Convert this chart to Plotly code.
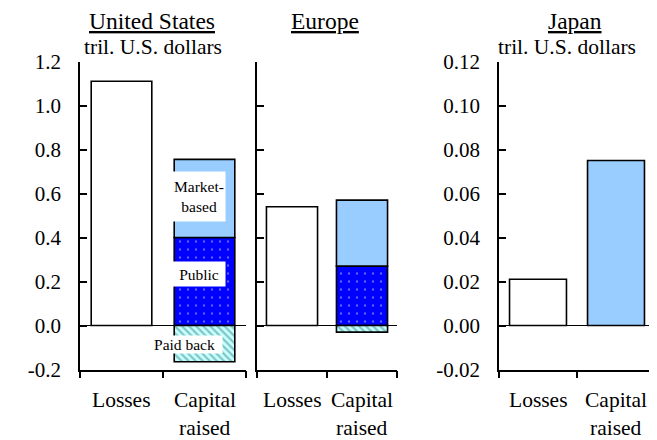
import plotly.graph_objects as go

# ---------------- data ----------------
categories = ["Losses", "Capital raised"]
cat_label_lines = [["Losses"], ["Capital", "raised"]]

us_losses = [1.11]
us_public = [0.40]
us_market = [0.355]
us_paid_back = [-0.165]

eu_losses = [0.54]
eu_public = [0.27]
eu_market = [0.30]
eu_paid_back = [-0.03]

jp_losses = [0.021]
jp_capital = [0.075]

us_tickvals = [-0.2, 0.0, 0.2, 0.4, 0.6, 0.8, 1.0, 1.2]
us_ticktext = ["-0.2", "0.0", "0.2", "0.4", "0.6", "0.8", "1.0", "1.2"]
jp_tickvals = [-0.02, 0.0, 0.02, 0.04, 0.06, 0.08, 0.10, 0.12]
jp_ticktext = ["-0.02", "0.00", "0.02", "0.04", "0.06", "0.08", "0.10", "0.12"]

panel_titles = ["United States", "Europe", "Japan"]
unit_label = "tril. U.S. dollars"
segment_labels = ["Market-<br>based", "Public", "Paid back"]

# ---------------- style ----------------
FONT = "Liberation Serif, Times New Roman, serif"
OFF = 8                      # default page body margin
FW, FH = 657 - OFF, 440 - OFF
WHITE = "#FFFFFF"
LIGHTBLUE = "#99CCFF"
BLUE = "#0000FF"
CYAN = "#CCFFFF"
TEAL = "#2E8E8E"
OUTLINE = dict(color="black", width=1.6)

def px_x(p):
    return (p - OFF) / FW

def px_y(p):
    return 1 - (p - OFF) / FH

fig = go.Figure()

def losses_bar(vals, xa, ya):
    fig.add_trace(go.Bar(x=[categories[0]], y=vals, xaxis=xa, yaxis=ya,
                         marker=dict(color=WHITE, line=OUTLINE), showlegend=False))

def public_bar(vals, xa, ya):
    fig.add_trace(go.Bar(x=[categories[1]], y=vals, xaxis=xa, yaxis=ya,
                         marker=dict(color=BLUE, line=OUTLINE,
                                     pattern=dict(shape=".", fgcolor="white", bgcolor=BLUE,
                                                  size=8, solidity=0.06)),
                         showlegend=False))

def market_bar(vals, xa, ya):
    fig.add_trace(go.Bar(x=[categories[1]], y=vals, xaxis=xa, yaxis=ya,
                         marker=dict(color=LIGHTBLUE, line=OUTLINE), showlegend=False))

def paid_bar(vals, xa, ya):
    fig.add_trace(go.Bar(x=[categories[1]], y=vals, xaxis=xa, yaxis=ya,
                         marker=dict(color=CYAN, line=OUTLINE,
                                     pattern=dict(shape="\\", fgcolor=TEAL, bgcolor=CYAN,
                                                  size=5, solidity=0.45)),
                         showlegend=False))

# United States
losses_bar(us_losses, "x", "y")
public_bar(us_public, "x", "y")
market_bar(us_market, "x", "y")
paid_bar(us_paid_back, "x", "y")
# Europe
losses_bar(eu_losses, "x2", "y2")
public_bar(eu_public, "x2", "y2")
market_bar(eu_market, "x2", "y2")
paid_bar(eu_paid_back, "x2", "y2")
# Japan
losses_bar(jp_losses, "x3", "y3")
market_bar(jp_capital, "x3", "y3")

ydom = [px_y(369.5), px_y(61.5)]
xdoms = [[px_x(80), px_x(246)], [px_x(257), px_x(397)], [px_x(499), px_x(655)]]

def xaxis_cfg(dom, anchor):
    return dict(domain=dom, anchor=anchor, type="category", categoryorder="array",
                categoryarray=categories, showline=True, linecolor="black", linewidth=1.5,
                ticks="outside", ticklen=7, tickwidth=1.5, tickcolor="black",
                tickson="boundaries", showticklabels=False, showgrid=False,
                zeroline=False, fixedrange=True, automargin=False)

def yaxis_cfg(anchor, rng, tv, tt, labels=True):
    return dict(domain=ydom, anchor=anchor, range=rng, tickmode="array",
                tickvals=tv, ticktext=tt, showticklabels=labels,
                showline=True, linecolor="black", linewidth=1.5,
                ticks="inside", ticklen=7, tickwidth=1.5, tickcolor="black",
                ticklabelstandoff=13,
                tickfont=dict(family=FONT, size=21, color="black"),
                showgrid=False, zeroline=True, zerolinecolor="black",
                zerolinewidth=1, fixedrange=True, automargin=False)

annotations = []
# panel titles and units
title_pos = [(151.5, 21), (324.5, 21), (575, 21)]
for (cx, cy), t in zip(title_pos, panel_titles):
    annotations.append(dict(text="<u>" + t + "</u>", x=px_x(cx), y=px_y(cy), xref="paper",
                            yref="paper", xanchor="center", yanchor="middle", showarrow=False,
                            font=dict(family=FONT, size=23.5, color="black")))
for cx in (153, 567):
    annotations.append(dict(text=unit_label, x=px_x(cx), y=px_y(47), xref="paper",
                            yref="paper", xanchor="center", yanchor="middle", showarrow=False,
                            font=dict(family=FONT, size=21.5, color="black")))

# category labels
for xr in ("x", "x2", "x3"):
    for cat, lines in zip(categories, cat_label_lines):
        for i, line in enumerate(lines):
            annotations.append(dict(text=line, x=cat, xref=xr, y=px_y(400 + 28 * i),
                                    yref="paper", xanchor="center", yanchor="middle",
                                    showarrow=False,
                                    font=dict(family=FONT, size=21.5, color="black")))

# segment labels inside US capital bar
seg_pos = [(0.585, -5.5, 52, 49), (0.232, -5.5, 52, 24), (-0.087, -20, 75, 17)]
for txt, (yy, xs, bw, bh) in zip(segment_labels, seg_pos):
    annotations.append(dict(text=txt, x=categories[1], xref="x", y=yy, yref="y",
                            xshift=xs, xanchor="center", yanchor="middle", showarrow=False,
                            width=bw, height=bh, bgcolor="white", borderpad=0,
                            font=dict(family=FONT, size=15.5, color="black")))

fig.update_layout(
    width=FW, height=FH,
    margin=dict(l=0, r=0, t=0, b=0, autoexpand=False),
    paper_bgcolor="white", plot_bgcolor="white",
    font=dict(family=FONT, color="black"),
    barmode="relative", bargap=0.27,
    showlegend=False,
    xaxis=xaxis_cfg(xdoms[0], "y"),
    xaxis2=xaxis_cfg(xdoms[1], "y2"),
    xaxis3=xaxis_cfg(xdoms[2], "y3"),
    yaxis=yaxis_cfg("x", [-0.2, 1.2], us_tickvals, us_ticktext),
    yaxis2=yaxis_cfg("x2", [-0.2, 1.2], us_tickvals, us_ticktext, labels=False),
    yaxis3=yaxis_cfg("x3", [-0.02, 0.12], jp_tickvals, jp_ticktext),
    annotations=annotations,
)

fig.write_html("out.html")
